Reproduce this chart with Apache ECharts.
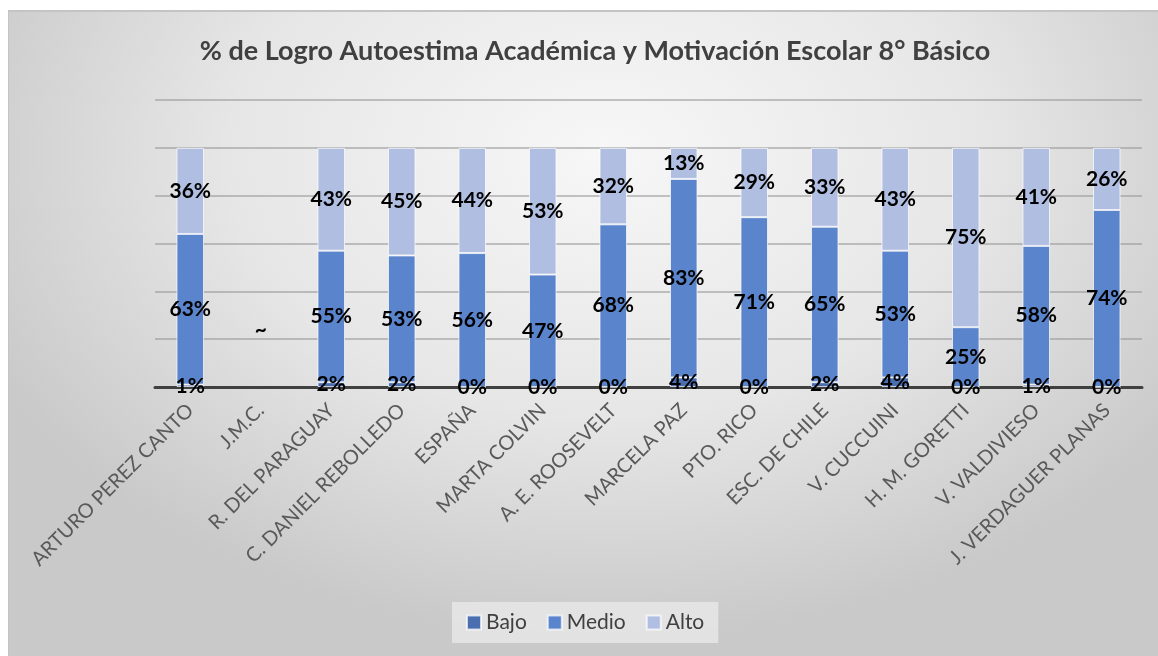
<!DOCTYPE html>
<html>
<head>
<meta charset="utf-8">
<script src="https://cdn.jsdelivr.net/npm/echarts@6/dist/echarts.min.js"></script>
<style>
  html, body { margin: 0; padding: 0; background: #fff; }
  .frame {
    position: absolute; left: 8px; top: 10px; width: 1150px; height: 646px;
    border-top: 2px solid #c4c4c4; border-left: 1px solid #c4c4c4;
    box-sizing: border-box;
    background: radial-gradient(ellipse 60% 75% at 52% 22%, #f7f7f7 0%, #e6e6e6 55%, #c9c9c9 100%);
  }
  #chart { position: absolute; left: 0; top: 0; width: 1158px; height: 656px; }
</style>
</head>
<body>
<div class="frame"></div>
<div id="chart"></div>
<script>
  const escuelas = ['ARTURO PEREZ CANTO', 'J.M.C.', 'R. DEL PARAGUAY', 'C. DANIEL REBOLLEDO', 'ESPAÑA',
    'MARTA COLVIN', 'A. E. ROOSEVELT', 'MARCELA PAZ', 'PTO. RICO', 'ESC. DE CHILE',
    'V. CUCCUINI', 'H. M. GORETTI', 'V. VALDIVIESO', 'J. VERDAGUER PLANAS']
  const bajo  = [1, null, 2, 2, 0, 0, 0, 4, 0, 2, 4, 0, 1, 0]
  const medio = [63, null, 55, 53, 56, 47, 68, 83, 71, 65, 53, 25, 58, 74]
  const alto  = [36, null, 43, 45, 44, 53, 32, 13, 29, 33, 43, 75, 41, 26]
  const sinDatos = '~'

  const chart = echarts.init(document.getElementById('chart'))

  const labelStyle = {
    show: true,
    position: 'inside',
    formatter: p => p.value + '%',
    color: '#000',
    fontFamily: 'Lato',
    fontWeight: 'bold',
    fontSize: 21
  }

  function serie(name, values, color) {
    return {
      name: name,
      type: 'bar',
      stack: 'total',
      barWidth: '39%',
      itemStyle: { color: color, borderColor: 'rgba(255,255,255,0.7)', borderWidth: 1 },
      label: labelStyle,
      data: values.map(v => v == null ? '-' : v)
    }
  }

  const series = [
    serie('Bajo', bajo, '#4a6eb0'),
    serie('Medio', medio, '#5a84cb'),
    serie('Alto', alto, '#b0bee1')
  ]
  // J.M.C. sin datos: marca "~"
  series[1].data = medio.map(v => v == null
    ? { value: 0, itemStyle: { borderWidth: 0 }, label: { formatter: sinDatos, offset: [0, -57] } }
    : v)

  chart.setOption({
    backgroundColor: 'transparent',
    animation: false,
    title: {
      text: '% de Logro Autoestima Académica y Motivación Escolar 8° Básico',
      left: 590,
      textAlign: 'center',
      top: 33,
      textStyle: { fontFamily: 'Lato', fontWeight: 'bold', fontSize: 27, color: '#404040' }
    },
    legend: {
      bottom: 13,
      left: 452,
      itemWidth: 14,
      itemHeight: 14,
      itemGap: 20,
      padding: [10, 14],
      backgroundColor: 'rgba(232,232,232,0.8)',
      icon: 'rect',
      textStyle: { fontFamily: 'Lato', fontSize: 21, color: '#404040' },
      data: ['Bajo', 'Medio', 'Alto']
    },
    grid: { left: 155, right: 16, top: 100, bottom: 269 },
    xAxis: {
      type: 'category',
      data: escuelas,
      axisLine: { lineStyle: { color: '#404040', width: 3 } },
      axisTick: { show: false },
      axisLabel: {
        rotate: 45,
        interval: 0,
        margin: 20,
        fontFamily: 'Lato',
        fontSize: 20,
        color: '#595959'
      }
    },
    yAxis: {
      type: 'value',
      min: 0,
      max: 120,
      interval: 20,
      axisLabel: { show: false },
      axisLine: { show: false },
      axisTick: { show: false },
      splitLine: { lineStyle: { color: 'rgba(150,150,150,0.55)', width: 2 } }
    },
    series: series
  })
</script>
</body>
</html>
